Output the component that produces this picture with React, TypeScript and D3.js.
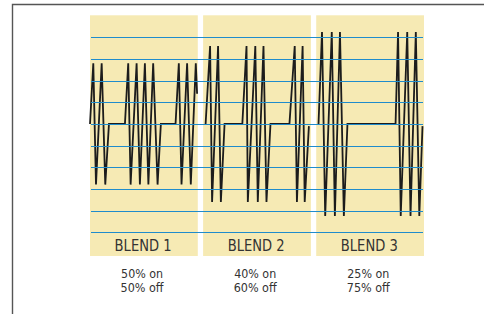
import * as d3 from 'd3'

// blend names and duty-cycle captions
const BLENDS = ['BLEND 1', 'BLEND 2', 'BLEND 3']
const ON_LABELS = ['50% on', '40% on', '25% on']
const OFF_LABELS = ['50% off', '60% off', '75% off']

// horizontal guide levels (amplitude units)
const GRID_LEVELS = [4, 3, 2, 1, 0, -1, -2, -3, -4, -5]

// waveform vertices per blend: [time, amplitude]
const WAVE_1: [number, number][] = [
  [0, 0], [3.3, 2.8], [6, -2.8], [11.7, 2.8], [15.3, -2.8], [19, 0],
  [35, 0], [38.3, 2.8], [40.7, -2.8], [46.7, 2.8], [50, -2.8], [55, 2.8],
  [58.5, -2.8], [63.3, 2.8], [67.7, -2.8], [71, 0],
  [85.7, 0], [89, 2.8], [91.7, -2.8], [97.3, 2.8], [101, -2.8], [106, 2.8], [107.3, 1.4]
]
const WAVE_2: [number, number][] = [
  [2.5, 0], [7, 3.6], [9, -3.6], [15, 3.6], [17.8, -3.6], [21.5, 0],
  [39.3, 0], [43.5, 3.6], [44.8, -3.6], [52.3, 3.6], [54.8, -3.6], [60.5, 3.6],
  [63.5, -3.6], [67.5, 0],
  [86.5, 0], [91.8, 3.6], [94, -3.6], [99.7, 3.6], [101.8, -3.6], [106, -0.1]
]
const WAVE_3: [number, number][] = [
  [2.3, 0], [5.8, 4.25], [9, -4.25], [15.6, 4.25], [18.7, -4.25], [23.8, 4.25],
  [27.7, -4.25], [31.3, 0],
  [79.5, 0], [82, 4.25], [84.7, -4.25], [91.2, 4.25], [94.5, -4.25], [99.8, 4.25],
  [103.3, -4.25], [106.5, -0.1]
]
const WAVES = [WAVE_1, WAVE_2, WAVE_3]

const W = 484
const H = 314
const PANEL_TOP = 15.3
const PANEL_BOTTOM = 256
const FONT = '"Liberation Sans Narrow", "DejaVu Sans Condensed", "Arial Narrow", sans-serif'

export default function App() {
  const band = d3.scaleBand<string>().domain(BLENDS).range([90, 424]).paddingInner(0.047).paddingOuter(0)
  const y = d3.scaleLinear().domain([-5, 4]).range([232.2, 37.4])

  const gridX0 = (band(BLENDS[0]) as number) + 1
  const gridX1 = (band(BLENDS[2]) as number) + band.bandwidth() - 1

  return (
    <svg
      width={W}
      height={H}
      viewBox={`0 0 ${W} ${H}`}
      style={{ position: 'absolute', left: 0, top: 0, background: '#fff' }}
    >
      {/* frame */}
      <path d={`M12.5,${H} V4.5 H${W}`} fill="none" stroke="#555" strokeWidth={1.4} />

      {/* yellow panels */}
      {BLENDS.map((b) => (
        <rect
          key={b}
          x={band(b)}
          y={PANEL_TOP}
          width={band.bandwidth()}
          height={PANEL_BOTTOM - PANEL_TOP}
          fill="#f6eab4"
        />
      ))}

      {/* waveforms */}
      {BLENDS.map((b, i) => {
        const x0 = band(b) as number
        const x = d3.scaleLinear().domain([0, 108]).range([x0, x0 + band.bandwidth()])
        const line = d3
          .line<[number, number]>()
          .x((d) => x(d[0]))
          .y((d) => y(d[1]))
        return (
          <path
            key={b}
            d={line(WAVES[i]) || ''}
            fill="none"
            stroke="#1c1c1c"
            strokeWidth={1.8}
            strokeLinejoin="miter"
          />
        )
      })}

      {/* blue guide lines */}
      {GRID_LEVELS.map((v) => (
        <line
          key={v}
          x1={gridX0}
          x2={gridX1}
          y1={Math.round(y(v)) + 0.5}
          y2={Math.round(y(v)) + 0.5}
          stroke="#1f8ccc"
          strokeWidth={1.1}
        />
      ))}

      {/* labels */}
      {BLENDS.map((b, i) => {
        const cx = (band(b) as number) + band.bandwidth() / 2
        return (
          <g key={b} fontFamily={FONT} fill="#333" textAnchor="middle">
            <text x={cx - 0.8} y={250.5} fontSize={16.5} textLength={57} lengthAdjust="spacingAndGlyphs">
              {b}
            </text>
            <text x={cx - 1.8} y={278.3} fontSize={12.5} textLength={42} lengthAdjust="spacingAndGlyphs">
              {ON_LABELS[i]}
            </text>
            <text x={cx - 1.8} y={292.3} fontSize={12.5} textLength={43} lengthAdjust="spacingAndGlyphs">
              {OFF_LABELS[i]}
            </text>
          </g>
        )
      })}
    </svg>
  )
}
